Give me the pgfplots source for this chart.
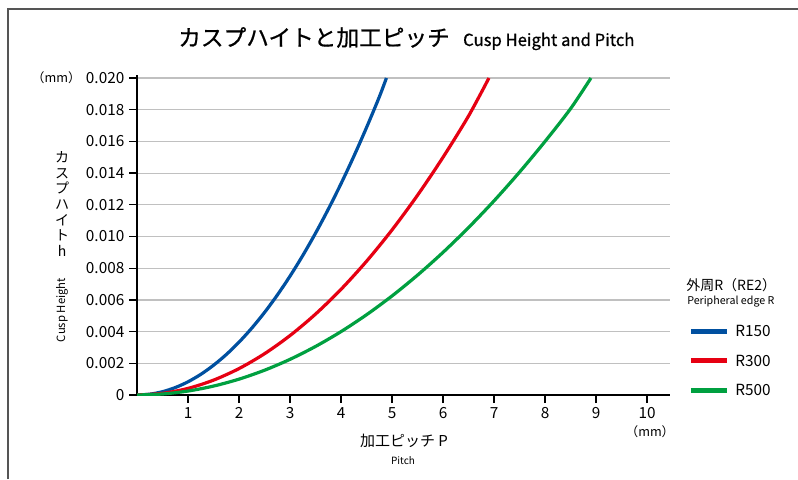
\documentclass[border=0pt]{standalone}
\usepackage{fontspec}
\setmainfont{Noto Sans CJK JP}
\usepackage{pgfplots}
\pgfplotsset{compat=1.18}
\definecolor{cblue}{RGB}{0,80,160}
\definecolor{cred}{RGB}{230,0,18}
\definecolor{cgreen}{RGB}{0,160,64}
\definecolor{cgrid}{RGB}{192,192,192}
\definecolor{cframe}{RGB}{85,85,85}
\begin{document}
\begin{tikzpicture}
\begin{scope}[x=0.75pt,y=0.75pt]
\useasboundingbox (0,0) rectangle (798,479);
\draw[cframe, line width=1.5pt] (8,0) -- (8,470) -- (798,470);
\end{scope}
\begin{axis}[
  at={(102.75pt,63pt)}, anchor=south west,
  scale only axis, width=399.75pt, height=240pt,
  xmin=0, xmax=10.45, ymin=0, ymax=0.02019,
  axis x line*=bottom, axis y line*=left,
  axis line style={-, line width=1.1pt, black},
  xtick={1,2,3,4,5,6,7,8,9,10},
  xticklabels={1,2,3,4,5,6,7,8,9,10},
  ytick={0,0.002,0.004,0.006,0.008,0.010,0.012,0.014,0.016,0.018,0.020},
  yticklabels={0,0.002,0.004,0.006,0.008,0.010,0.012,0.014,0.016,0.018,0.020},
  scaled y ticks=false, scaled x ticks=false,
  xtick align=outside, ytick align=outside,
  xtick style={draw=black, line width=1pt},
  ytick style={draw=black, line width=1pt},
  major tick length=6pt,
  ticklabel style={font=\fontsize{11.5pt}{13pt}\selectfont},
  ymajorgrids, grid style={cgrid, line width=0.9pt},
  legend style={at={(axis description cs:1.034,0.216)}, anchor=north west,
    draw=none, fill=none, inner sep=0pt, row sep=14pt,
    font=\fontsize{11.5pt}{13pt}\selectfont,
    nodes={inner sep=0pt, text height=8pt, text depth=0pt}},
  legend cell align=left,
  legend image code/.code={\draw[#1, line width=3.75pt] (0pt,0pt) -- (27pt,0pt);},
  /tikz/every odd column/.append style={column sep=4.5pt},
]
\addplot[cblue, line width=2.4pt, smooth, tension=0.5] coordinates {
(0,0) (0.25,0.0000521) (0.5,0.000208) (0.75,0.000469) (1,0.000833)
(1.25,0.001302) (1.5,0.001875) (1.75,0.002552) (2,0.003333) (2.25,0.004219)
(2.5,0.005208) (2.75,0.006302) (3,0.0075) (3.25,0.008802) (3.5,0.010208)
(3.75,0.011719) (4,0.013333) (4.25,0.015052) (4.5,0.016875) (4.75,0.018802)
(4.89,0.0200)};
\addlegendentry{R150}
\addplot[cred, line width=2.4pt, smooth, tension=0.5] coordinates {
(0,0) (0.5,0.000104) (1,0.000417) (1.5,0.000938) (2,0.001667) (2.5,0.002604)
(3,0.00375) (3.5,0.005104) (4,0.006667) (4.5,0.008438) (5,0.010417)
(5.5,0.012604) (6,0.015) (6.5,0.017604) (6.9,0.0200)};
\addlegendentry{R300}
\addplot[cgreen, line width=2.4pt, smooth, tension=0.5] coordinates {
(0,0) (0.5,0.0000625) (1,0.00025) (1.5,0.000563) (2,0.001) (2.5,0.001563)
(3,0.00225) (3.5,0.003063) (4,0.004) (4.5,0.005063) (5,0.00625) (5.5,0.007563)
(6,0.009) (6.5,0.010563) (7,0.01225) (7.5,0.014063) (8,0.016) (8.5,0.018063)
(8.9,0.0200)};
\addlegendentry{R500}
\end{axis}
\begin{scope}[x=0.75pt,y=0.75pt]
% tick marks
\foreach \k in {1,...,10} {\draw[black, line width=1pt] ({137+51.005*\k},84) -- ({137+51.005*\k},76);}
\foreach \j in {1,...,10} {\draw[black, line width=1pt] (129,{84+31.70*\j}) -- (137,{84+31.70*\j});}
% title
\node[anchor=base west, inner sep=0pt] at (178,433)
  {\fontsize{17pt}{19pt}\selectfont\addfontfeatures{FakeBold=0.7}カスプハイトと加工ピッチ\hspace{10pt}\fontsize{12.5pt}{14pt}\selectfont Cusp Height and Pitch};
% y units
\node[anchor=east, inner sep=0pt, font=\fontsize{9.5pt}{11pt}\selectfont] at (81,401) {（mm）};
% y label
\node[align=center, inner sep=0pt, font=\fontsize{10.5pt}{11.8pt}\selectfont] at (62,275) {カ\\ス\\プ\\ハ\\イ\\ト\\h};
\node[rotate=90, inner sep=0pt, font=\fontsize{8.5pt}{10pt}\selectfont] at (62,169) {Cusp Height};
% x label
\node[inner sep=0pt, font=\fontsize{11.25pt}{13pt}\selectfont] at (404,38) {加工ピッチ P};
\node[inner sep=0pt, font=\fontsize{7.5pt}{9pt}\selectfont] at (403,18) {Pitch};
\node[inner sep=0pt, font=\fontsize{9.5pt}{11pt}\selectfont] at (650,47) {（mm）};
% legend title
\node[anchor=west, inner sep=0pt, font=\fontsize{10.5pt}{12pt}\selectfont] at (686,194) {外周R（RE2）};
\node[anchor=west, inner sep=0pt, font=\fontsize{8pt}{10pt}\selectfont] at (687,177) {Peripheral edge R};
\end{scope}
\end{tikzpicture}
\end{document}
